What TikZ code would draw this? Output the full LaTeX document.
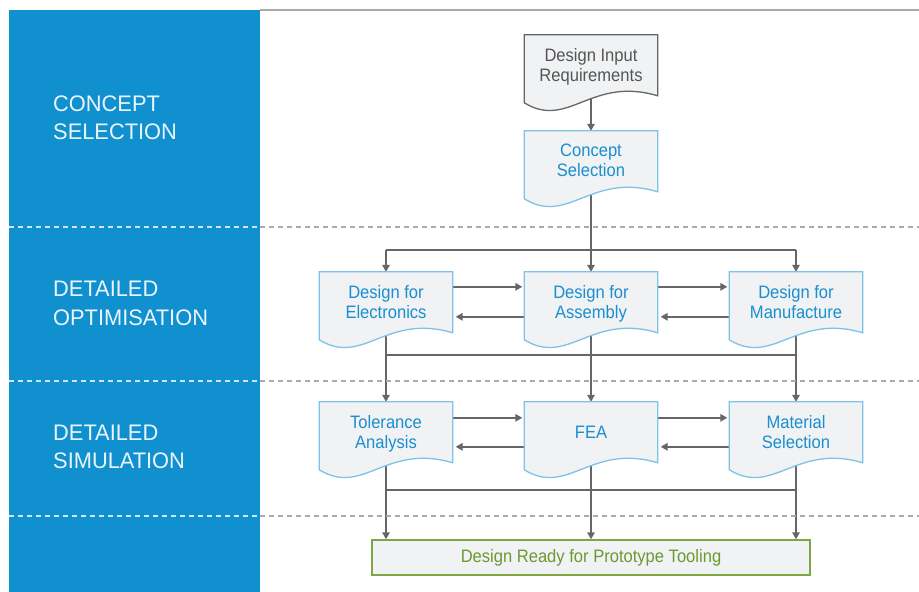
\documentclass[tikz,border=0pt]{standalone}
\usepackage{fontspec}
\setmainfont{Liberation Sans}[FakeStretch=0.92]
\newfontfamily\labelfont{Liberation Sans}[FakeStretch=0.97]
\usetikzlibrary{arrows.meta,calc}
\pgfdeclarelayer{conn}
\pgfdeclarelayer{shp}
\pgfsetlayers{conn,shp,main}
\definecolor{panel}{HTML}{1190CF}
\definecolor{boxfill}{HTML}{F0F2F4}
\definecolor{bluetext}{HTML}{1A8ED0}
\definecolor{blueedge}{HTML}{7EC2E8}
\definecolor{grayedge}{HTML}{666666}
\definecolor{graytext}{HTML}{555555}
\definecolor{conncol}{HTML}{666666}
\definecolor{dashgray}{HTML}{AAAAAA}
\definecolor{dashlight}{HTML}{CDE6F5}
\definecolor{greenedge}{HTML}{7BA840}
\definecolor{greentext}{HTML}{6A9A30}
\definecolor{labeltext}{HTML}{EAF5FC}
\newcommand\docshape[2]{%
  \begin{pgfonlayer}{shp}
    \filldraw[fill=boxfill, draw=#2, line width=1.3pt, line join=miter]
      (#1.north west) -- (#1.north east) -- ($(#1.north east)+(0,61)$)
      .. controls ($(#1.north west)+(66.5,41)$) and ($(#1.north west)+(44,95)$) ..
      ($(#1.north west)+(0,68)$) -- cycle;
  \end{pgfonlayer}}
\begin{document}
\begin{tikzpicture}[x=1pt,y=-1pt,
  line/.style={draw=conncol, line width=1.5pt},
  arr/.style={line, -{Triangle[length=7pt,width=7.5pt]}},
  docbox/.style={minimum width=133pt, minimum height=65pt, inner sep=0pt,
    align=center, font=\fontsize{18}{20}\selectfont, text=bluetext,
    execute at begin node=\strut, execute at end node=\strut},
  lab/.style={anchor=west, align=left, inner sep=0pt, text=labeltext,
    font=\labelfont\fontsize{22.5}{28.5}\selectfont},
  dashpanel/.style={draw=dashlight, line width=1.5pt, dash pattern=on 5pt off 4pt},
  dashwhite/.style={draw=dashgray, line width=1.5pt, dash pattern=on 5pt off 4pt}]
\useasboundingbox (0,0) rectangle (919,592);
% panel and separators
\fill[panel] (9,10) rectangle (260,592);
\draw[dashgray, line width=1.5pt] (260,10) -- (919,10);
\foreach \yy in {227,381,516}{
  \draw[dashpanel] (9,\yy) -- (260,\yy);
  \draw[dashwhite] (260,\yy) -- (919,\yy);
}
% stage labels
\node[lab] (l1) at (53,118) {CONCEPT\\SELECTION};
\node[lab] (l2) at (53,303.5) {DETAILED\\OPTIMISATION};
\node[lab] (l3) at (53,447) {DETAILED\\SIMULATION};
% boxes
\node[docbox, text=graytext] (inp) at (591,67.5) {Design Input\\Requirements};
\docshape{inp}{grayedge}
\node[docbox] (con) at (591,163.5) {Concept\\Selection};
\docshape{con}{blueedge}
\node[docbox] (ele) at (386,304.5) {Design for\\Electronics};
\docshape{ele}{blueedge}
\node[docbox] (asm) at (591,304.5) {Design for\\Assembly};
\docshape{asm}{blueedge}
\node[docbox] (man) at (796,304.5) {Design for\\Manufacture};
\docshape{man}{blueedge}
\node[docbox] (tol) at (386,434.5) {Tolerance\\Analysis};
\docshape{tol}{blueedge}
\node[docbox] (fea) at (591,434.5) {FEA};
\docshape{fea}{blueedge}
\node[docbox] (mat) at (796,434.5) {Material\\Selection};
\docshape{mat}{blueedge}
\node[draw=greenedge, line width=1.5pt, fill=boxfill, minimum width=438pt,
  minimum height=35pt, inner sep=0pt, text=greentext,
  font=\fontsize{18}{20}\selectfont] (fin) at (591,557.5)
  {Design Ready for Prototype Tooling};
% bus coordinates
\coordinate (b1) at (591,250);
\coordinate (b2) at (591,355);
\coordinate (b3) at (591,490);
\begin{pgfonlayer}{conn}
  \draw[arr] (inp.center) -- (con.north);
  \draw[line] (con.center) -- (b1);
  \draw[line] (ele.north |- b1) -- (man.north |- b1);
  \draw[arr] (ele.north |- b1) -- (ele.north);
  \draw[arr] (b1) -- (asm.north);
  \draw[arr] (man.north |- b1) -- (man.north);
  % row 2 horizontal
  \draw[arr] ($(ele.north east)+(0,15)$) -- ($(asm.north west)+(-2,15)$);
  \draw[arr] ($(asm.north west)+(0,45)$) -- ($(ele.north east)+(3,45)$);
  \draw[arr] ($(asm.north east)+(0,15)$) -- ($(man.north west)+(-2,15)$);
  \draw[arr] ($(man.north west)+(0,45)$) -- ($(asm.north east)+(3,45)$);
  % bus 2
  \draw[line] (ele.center |- b2) -- (man.center |- b2);
  \draw[arr] (ele.center) -- (tol.north);
  \draw[arr] (asm.center) -- (fea.north);
  \draw[arr] (man.center) -- (mat.north);
  % row 3 horizontal
  \draw[arr] ($(tol.north east)+(0,16)$) -- ($(fea.north west)+(-2,16)$);
  \draw[arr] ($(fea.north west)+(0,45)$) -- ($(tol.north east)+(3,45)$);
  \draw[arr] ($(fea.north east)+(0,16)$) -- ($(mat.north west)+(-2,16)$);
  \draw[arr] ($(mat.north west)+(0,45)$) -- ($(fea.north east)+(3,45)$);
  % bus 3
  \draw[line] (tol.center |- b3) -- (mat.center |- b3);
  \draw[arr] (tol.center) -- (tol.center |- fin.north);
  \draw[arr] (fea.center) -- (fin.north);
  \draw[arr] (mat.center) -- (mat.center |- fin.north);
\end{pgfonlayer}
\end{tikzpicture}
\end{document}
